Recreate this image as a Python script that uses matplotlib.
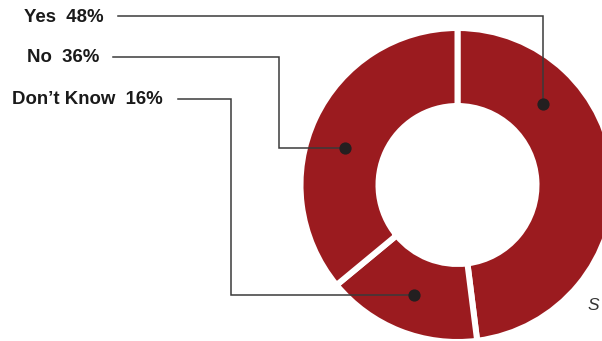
import numpy as np
import matplotlib.pyplot as plt

plt.rcParams['font.family'] = ['Liberation Sans', 'DejaVu Sans']

# data
labels = ['Yes', "Don\u2019t Know", 'No']
values = [48, 16, 36]

# layout (pixels of the 602x341 image)
W, H = 602, 341
cx, cy = 457.5, 185
r_out, r_in = 154, 82
gap = 6
red = '#9b1b1f'

dot_frac = [0.27, 0.50, 0.445]      # where the dot sits inside each wedge
label_y = [16, 99, 57]
label_right = [104, 163, 99]
line_start = [118, 178, 113]
elbow_x = [None, 231, 279]

fig = plt.figure(figsize=(W / 100, H / 100), dpi=100)
ax = fig.add_axes([0, 0, 1, 1])

lw = gap * 72 / 100
ax.pie(values, radius=r_out + gap / 2, center=(cx, cy), startangle=-90,
       counterclock=True, colors=[red] * 3,
       wedgeprops=dict(width=r_out - r_in + gap, edgecolor='white', linewidth=lw))

ax.set_xlim(0, W)
ax.set_ylim(H, 0)
ax.set_aspect('equal')
ax.axis('off')

cum = np.concatenate([[0], np.cumsum(values)]) / sum(values) * 360
r_mid = (r_out + r_in) / 2
for i, lab in enumerate(labels):
    ang = np.radians(cum[i] + dot_frac[i] * (cum[i + 1] - cum[i]))
    dx = cx + r_mid * np.sin(ang)
    dy = cy - r_mid * np.cos(ang)
    ex = dx if elbow_x[i] is None else elbow_x[i]
    xs = [line_start[i], ex, ex, dx]
    ys = [label_y[i], label_y[i], dy, dy]
    ax.plot(xs, ys, color='#3a3a3a', lw=1.1, solid_joinstyle='miter', zorder=3)
    ax.plot(dx, dy, 'o', color='#231f20', ms=7.8, zorder=4)
    ax.text(label_right[i], label_y[i] + 1, f'{lab}  {values[i]}%', ha='right',
            va='center', fontsize=13.4, fontweight='bold', color='#1a1a1a')

ax.text(599, 306, 'S', ha='right', va='center', fontsize=12.5, style='italic',
        color='#333333')

fig.savefig('out.png', dpi=100)
